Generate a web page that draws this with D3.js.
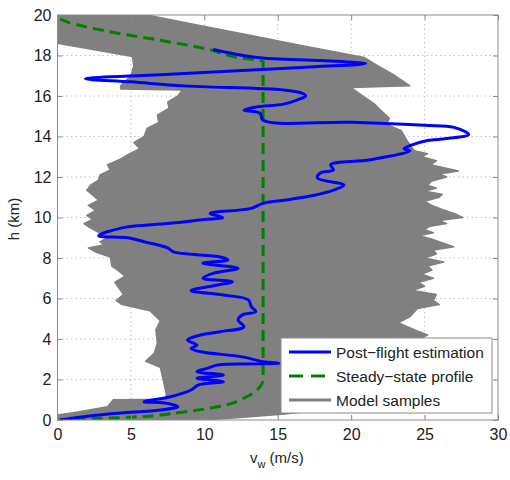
<!DOCTYPE html>
<html><head><meta charset="utf-8">
<script src="https://cdn.jsdelivr.net/npm/d3@7"></script>
<style>
body{margin:0;background:#fff;}
svg{display:block;font-family:"Liberation Sans",Arial,sans-serif;}
</style></head>
<body><svg id="c" width="510" height="480"></svg>
<script>
// ---- data ----
const xTicks = [0, 5, 10, 15, 20, 25, 30];
const yTicks = [0, 2, 4, 6, 8, 10, 12, 14, 16, 18, 20];
const seriesNames = ["Post\u2212flight estimation", "Steady\u2212state profile", "Model samples"];

// Model samples envelope: right edge (top -> bottom)
const envRightH = [20, 19.5, 19.0, 18.5, 17.9, 17.5, 17.0, 16.5, 16.42, 16.0, 15.6, 15.3, 14.9, 14.6, 14.3, 13.8, 13.3, 13.15, 13.0, 12.8, 12.6, 12.45, 12.3, 12.15, 12.0, 11.8, 11.6, 11.45, 11.3, 11.15, 11.0, 10.8, 10.6, 10.4, 10.2, 10.0, 9.85, 9.7, 9.55, 9.4, 9.25, 9.1, 8.95, 8.8, 8.55, 8.4, 8.2, 8.0, 7.8, 7.6, 7.4, 7.2, 7.0, 6.8, 6.6, 6.4, 6.2, 5.9, 5.7, 5.5, 5.1, 4.8, 4.4, 4.2, 3.8, 3.0, 2.0, 1.0, 0.5, 0.3, 0.1, 0];
const envRightV = [6.1, 9.6, 13.1, 16.6, 20.9, 21.8, 23.0, 24.0, 20.0, 20.8, 21.6, 22.0, 22.6, 22.4, 23.4, 23.8, 24.3, 25.2, 24.8, 25.8, 25.4, 26.4, 27.3, 26.0, 26.5, 25.5, 25.2, 25.8, 25.0, 26.2, 26.0, 25.0, 25.5, 26.2, 27.0, 27.6, 26.0, 26.5, 25.3, 25.0, 25.6, 24.6, 25.4, 26.0, 27.0, 25.6, 25.8, 25.0, 26.3, 25.2, 25.5, 24.8, 25.6, 24.6, 25.0, 24.2, 25.8, 25.6, 26.0, 24.5, 24.0, 23.2, 24.5, 25.2, 24.0, 23.5, 23.0, 21.0, 18.0, 15.5, 12.0, 10.0];
// Model samples envelope: left edge (bottom -> top)
const envLeftH = [0, 0.25, 0.4, 0.65, 1.0, 1.02, 1.3, 2.0, 2.6, 2.9, 3.3, 3.8, 4.45, 4.9, 5.4, 5.7, 5.9, 6.2, 6.6, 6.8, 7.1, 7.4, 7.6, 8.05, 8.3, 8.5, 8.65, 8.8, 9.0, 9.3, 9.5, 9.7, 9.9, 10.1, 10.35, 10.6, 10.85, 11.1, 11.35, 11.6, 11.85, 12.1, 12.35, 12.6, 12.85, 13.1, 13.4, 13.7, 14.0, 14.4, 14.7, 15.05, 15.4, 15.7, 16.0, 16.3, 16.35, 16.5, 17.0, 17.5, 17.95, 18.6, 20];
const envLeftV = [0, 0, 1.4, 3.4, 3.8, 7.4, 7.4, 7.2, 7.0, 6.0, 6.6, 6.8, 6.7, 7.0, 6.3, 4.4, 4.0, 4.5, 4.1, 3.9, 4.6, 4.1, 3.7, 3.6, 2.6, 2.1, 3.2, 2.9, 3.4, 2.7, 2.2, 1.8, 2.4, 2.0, 2.6, 2.1, 2.8, 2.4, 2.0, 2.25, 2.8, 2.9, 3.6, 3.4, 4.2, 4.8, 5.6, 5.2, 5.9, 6.1, 6.9, 6.8, 7.6, 7.5, 8.2, 8.5, 4.3, 4.3, 5.0, 5.2, 5.1, 0, 0];

// Post-flight estimation
const estH = [18.3, 17.9, 17.75, 17.6, 17.45, 17.3, 17.05, 16.85, 16.7, 16.5, 16.3, 16.15, 16.0, 15.8, 15.6, 15.45, 15.3, 15.15, 14.8, 14.7, 14.55, 14.45, 14.1, 13.9, 13.8, 13.6, 13.4, 13.3, 12.85, 12.6, 12.35, 12.2, 11.95, 11.6, 11.35, 11.1, 10.85, 10.7, 10.45, 10.2, 10.0, 9.9, 9.7, 9.5, 9.1, 9.0, 8.8, 8.5, 8.3, 8.05, 7.9, 7.74, 7.49, 7.24, 7.0, 6.83, 6.67, 6.39, 6.17, 5.93, 5.6, 5.35, 5.19, 4.94, 4.6, 4.36, 4.2, 3.95, 3.7, 3.54, 3.37, 3.13, 2.88, 2.8, 2.72, 2.55, 2.39, 2.22, 2.06, 1.89, 1.73, 1.48, 1.15, 0.9, 0.85, 0.66, 0.49, 0.33, 0.16, 0];
const estV = [10.6, 13.6, 18.0, 21.0, 17.5, 13.6, 7.0, 1.9, 5.0, 8.6, 15.4, 16.6, 16.9, 16.3, 15.4, 13.5, 12.7, 13.8, 14.0, 20.0, 25.0, 27.0, 28.0, 26.5, 25.2, 24.2, 23.6, 24.0, 21.3, 18.6, 18.8, 17.9, 17.7, 19.5, 18.8, 17.5, 15.4, 14.0, 13.2, 10.4, 11.25, 10.0, 7.5, 4.5, 2.8, 4.8, 5.9, 7.5, 7.9, 11.1, 11.6, 9.9, 12.3, 10.6, 9.9, 11.9, 10.9, 9.1, 11.3, 13.0, 13.2, 13.5, 12.6, 12.3, 12.7, 11.1, 9.75, 8.85, 9.5, 9.1, 9.75, 12.5, 14.0, 15.1, 10.9, 10.2, 9.5, 11.3, 9.5, 11.3, 9.6, 9.1, 7.7, 5.9, 7.2, 8.2, 7.0, 4.1, 1.8, 0.2];

// Steady-state profile
const steadyH = [0, 0.15, 0.4, 0.65, 1.15, 1.65, 2.0, 17.7, 17.9, 18.35, 18.75, 19.1, 19.65, 19.85];
const steadyV = [0, 5.2, 8.6, 10.9, 12.9, 13.8, 14.0, 14.0, 12.3, 10.0, 7.0, 4.1, 0.7, 0];

// ---- drawing ----
const svg = d3.select("#c");
const L = 57.5, R = 498, T = 15, B = 420;
const x = d3.scaleLinear().domain([0, 30]).range([L, R]);
const y = d3.scaleLinear().domain([0, 20]).range([B, T]);
const BLUE = "#0000ff", GREEN = "#008000", GRAY = "#808080", AX = "#8a8a8a";

const g = svg.append("g");
g.append("defs").append("clipPath").attr("id", "clip")
  .append("rect").attr("x", L).attr("y", T).attr("width", R - L).attr("height", B - T);

// grid
const grid = g.append("g").attr("stroke", "#c4c4c4").attr("stroke-width", 1).attr("stroke-dasharray", "1.5,3");
xTicks.slice(1, -1).forEach(t => grid.append("line").attr("x1", x(t)).attr("x2", x(t)).attr("y1", T).attr("y2", B));
yTicks.slice(1, -1).forEach(t => grid.append("line").attr("y1", y(t)).attr("y2", y(t)).attr("x1", L).attr("x2", R));

const plot = g.append("g").attr("clip-path", "url(#clip)");

// envelope
const envPts = envRightH.map((h, i) => [envRightV[i], h])
  .concat(envLeftH.map((h, i) => [envLeftV[i], h]));
const lineXY = d3.line().x(d => x(d[0])).y(d => y(d[1]));
plot.append("path").attr("d", lineXY(envPts) + "Z").attr("fill", GRAY).attr("stroke", GRAY).attr("stroke-width", 1.5).attr("stroke-linejoin", "round");

// steady-state
plot.append("path").attr("d", d3.line().x(d => x(d[0])).y(d => y(d[1])).curve(d3.curveMonotoneY)(steadyH.map((h, i) => [steadyV[i], h])))
  .attr("fill", "none").attr("stroke", GREEN).attr("stroke-width", 3).attr("stroke-dasharray", "11,6");

// estimation
plot.append("path").attr("d", d3.line().x(d => x(d[0])).y(d => y(d[1])).curve(d3.curveCatmullRom.alpha(0.5))(estH.map((h, i) => [estV[i], h])))
  .attr("fill", "none").attr("stroke", BLUE).attr("stroke-width", 3).attr("stroke-linejoin", "round");

// axes box
g.append("rect").attr("x", L).attr("y", T).attr("width", R - L).attr("height", B - T)
  .attr("fill", "none").attr("stroke", AX).attr("stroke-width", 1);

const xb = g.append("g").attr("transform", `translate(0,${B})`)
  .call(d3.axisBottom(x).tickValues(xTicks).tickSizeInner(-5).tickSizeOuter(0).tickPadding(9));
const yl = g.append("g").attr("transform", `translate(${L},0)`)
  .call(d3.axisLeft(y).tickValues(yTicks).tickSizeInner(-5).tickSizeOuter(0).tickPadding(6));
const xt = g.append("g").attr("transform", `translate(0,${T})`)
  .call(d3.axisTop(x).tickValues(xTicks).tickSizeInner(-5).tickSizeOuter(0).tickFormat(""));
const yr = g.append("g").attr("transform", `translate(${R},0)`)
  .call(d3.axisRight(y).tickValues(yTicks).tickSizeInner(-5).tickSizeOuter(0).tickFormat(""));
[xb, yl, xt, yr].forEach(a => {
  a.select(".domain").remove();
  a.selectAll("line").attr("stroke", AX);
  a.selectAll("text").attr("fill", "#222").style("font-size", "16px").style("font-family", "'Liberation Sans',Arial,sans-serif");
});

// axis labels
const xl = g.append("text").attr("x", 250).attr("y", 463).attr("fill", "#222").style("font-size", "15px");
xl.append("tspan").text("v");
xl.append("tspan").attr("dy", 5).style("font-size", "11px").text("w");
xl.append("tspan").attr("dy", -5).text(" (m/s)");
g.append("text").attr("transform", "translate(19,219) rotate(-90)").attr("text-anchor", "middle")
  .attr("fill", "#222").style("font-size", "15px").text("h (km)");

// legend
const lg = g.append("g");
lg.append("rect").attr("x", 281).attr("y", 338).attr("width", 211).attr("height", 75)
  .attr("fill", "#fff").attr("stroke", AX).attr("stroke-width", 1);
const lStyles = [{c: BLUE, d: null}, {c: GREEN, d: "14,8"}, {c: GRAY, d: null}];
seriesNames.forEach((n, i) => {
  const yy = 352 + i * 24;
  lg.append("line").attr("x1", 289).attr("x2", 331).attr("y1", yy).attr("y2", yy)
    .attr("stroke", lStyles[i].c).attr("stroke-width", 3).attr("stroke-dasharray", lStyles[i].d);
  lg.append("text").attr("x", 336).attr("y", yy + 5.5).attr("fill", "#222").style("font-size", "15.5px").text(n);
});
</script></body></html>
